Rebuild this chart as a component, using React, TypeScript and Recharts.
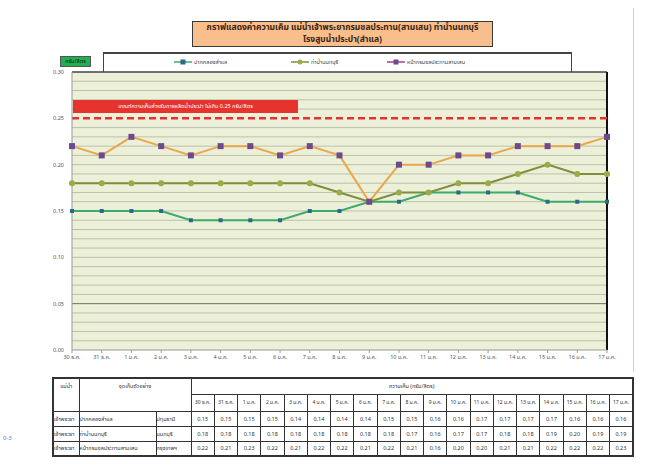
import React from 'react';
import { LineChart, Line, XAxis, YAxis, ReferenceLine, ReferenceArea } from 'recharts';

const dates = [
  '30 ธ.ค.', '31 ธ.ค.', '1 ม.ค.', '2 ม.ค.', '3 ม.ค.', '4 ม.ค.', '5 ม.ค.', '6 ม.ค.', '7 ม.ค.', '8 ม.ค.',
  '9 ม.ค.', '10 ม.ค.', '11 ม.ค.', '12 ม.ค.', '13 ม.ค.', '14 ม.ค.', '15 ม.ค.', '16 ม.ค.', '17 ม.ค.',
];
const samlae = [0.15, 0.15, 0.15, 0.15, 0.14, 0.14, 0.14, 0.14, 0.15, 0.15, 0.16, 0.16, 0.17, 0.17, 0.17, 0.17, 0.16, 0.16, 0.16];
const nonthaburi = [0.18, 0.18, 0.18, 0.18, 0.18, 0.18, 0.18, 0.18, 0.18, 0.17, 0.16, 0.17, 0.17, 0.18, 0.18, 0.19, 0.20, 0.19, 0.19];
const samsen = [0.22, 0.21, 0.23, 0.22, 0.21, 0.22, 0.22, 0.21, 0.22, 0.21, 0.16, 0.20, 0.20, 0.21, 0.21, 0.22, 0.22, 0.22, 0.23];

const yTicks = [0, 0.05, 0.1, 0.15, 0.2, 0.25, 0.3];
const gridValues = [
  0.01, 0.02, 0.03, 0.04, 0.05, 0.06, 0.07, 0.08, 0.09, 0.1, 0.11, 0.12, 0.13, 0.14, 0.15,
  0.16, 0.17, 0.18, 0.19, 0.2, 0.21, 0.22, 0.23, 0.24, 0.26, 0.27, 0.28, 0.29,
];
const limit = 0.25;

const stations = [
  { key: 'samlae', name: 'ปากคลองสำแล', province: 'ปทุมธานี', values: samlae, line: '#3dab6c', dot: '#2b6a86', shape: 'small' },
  { key: 'nonthaburi', name: 'ท่าน้ำนนทบุรี', province: 'นนทบุรี', values: nonthaburi, line: '#7f8d3c', dot: '#9aab48', shape: 'circle' },
  { key: 'samsen', name: 'หน้ากรมชลประทานสามเสน', province: 'กรุงเทพฯ', values: samsen, line: '#eba64c', dot: '#6b4a8e', shape: 'square' },
];

const data = dates.map((d, i) => ({
  date: d,
  samlae: samlae[i],
  nonthaburi: nonthaburi[i],
  samsen: samsen[i],
}));

const FONT = '"Noto Sans Thai", "Noto Sans", "DejaVu Sans", sans-serif';

const makeDot = (shape: string, color: string) => (props: any) => {
  const { cx, cy, index } = props;
  if (cx == null || cy == null) return <g key={index} />;
  if (shape === 'circle') return <circle key={index} cx={cx} cy={cy} r={3} fill={color} />;
  const s = shape === 'square' ? 6 : 4;
  return <rect key={index} x={cx - s / 2} y={cy - s / 2} width={s} height={s} fill={color} />;
};

const LegendMark: React.FC<{ line: string; dot: string; shape: string }> = ({ line, dot, shape }) => (
  <svg width={18} height={6} style={{ marginRight: 2 }}>
    <line x1={0} y1={3} x2={18} y2={3} stroke={line} strokeWidth={1.5} />
    {shape === 'circle' ? <circle cx={9} cy={3} r={2.5} fill={dot} /> : <rect x={6.5} y={0.5} width={5} height={5} fill={dot} />}
  </svg>
);

const cell: React.CSSProperties = { border: '1px solid #333', padding: 0, textAlign: 'center', fontSize: 5.5, color: '#333' };

export default function App() {
  return (
    <div style={{ position: 'absolute', left: 0, top: 0, width: 653, height: 466, background: '#fff', fontFamily: FONT, overflow: 'hidden' }}>
      <div style={{ position: 'absolute', left: 633, top: 8, width: 1, height: 364, background: '#d0d0d0' }} />

      {/* title */}
      <div style={{ position: 'absolute', left: 192, top: 21, width: 301, height: 26, background: '#f8be8c', border: '1px solid #3a3a3a', boxSizing: 'border-box', fontSize: 8.5, fontWeight: 700, color: '#3a2410', textAlign: 'center', lineHeight: '11.5px', paddingTop: 0 }}>
        กราฟแสดงค่าความเค็ม แม่น้ำเจ้าพระยากรมชลประทาน(สามเสน) ท่าน้ำนนทบุรี
        <br />
        โรงสูบน้ำประปา(สำแล)
      </div>

      {/* legend */}
      <div style={{ position: 'absolute', left: 103, top: 52, width: 469, height: 20, background: '#fff', borderTop: '2px solid #444', borderLeft: '1px solid #444', borderRight: '1px solid #444', boxSizing: 'border-box', fontSize: 5.5, color: '#444' }}>
        {stations.map((s, i) => (
          <div key={s.key} style={{ position: 'absolute', left: [70, 187, 283][i], top: 4, display: 'flex', alignItems: 'center' }}>
            <LegendMark line={s.key === 'samsen' ? '#b0407a' : s.line} dot={s.dot} shape={s.shape} />
            {s.name}
          </div>
        ))}
      </div>

      {/* unit label */}
      <div style={{ position: 'absolute', left: 60, top: 56, width: 31, height: 11, background: '#21b14a', border: '1px solid #555', boxSizing: 'border-box', fontSize: 5.5, color: '#113', textAlign: 'center', lineHeight: '9px' }}>
        กรัม/ลิตร
      </div>

      <LineChart width={653} height={372} data={data} margin={{ top: 72, right: 46, bottom: 6, left: 42 }} style={{ position: 'absolute', left: 0, top: 0 }}>
        <ReferenceArea y1={0} y2={0.3} fill="#ecf0d9" fillOpacity={1} stroke="none" ifOverflow="visible" />
        {gridValues.map((v) => (
          <ReferenceLine key={v} y={v} stroke={v === 0.05 ? '#6e6e66' : '#bcc1aa'} strokeWidth={1} />
        ))}
        <ReferenceLine y={0.3} stroke="#444" strokeWidth={1.5} />
        <ReferenceLine x={dates[dates.length - 1]} stroke="#111" strokeWidth={2} />
        <ReferenceLine y={limit} stroke="#e5312c" strokeWidth={2.5} strokeDasharray="7 4" />
        <XAxis
          dataKey="date"
          height={16}
          tick={{ fontSize: 5.5, fill: '#555', fontFamily: FONT }}
          tickLine={{ stroke: '#999' }}
          tickSize={3}
          axisLine={{ stroke: '#999' }}
          interval={0}
        />
        <YAxis
          domain={[0, 0.3]}
          ticks={yTicks}
          width={30}
          tick={{ fontSize: 5.5, fill: '#555', fontFamily: FONT }}
          tickFormatter={(v: number) => v.toFixed(2)}
          tickLine={false}
          axisLine={{ stroke: '#999' }}
        />
        {stations.map((s) => (
          <Line
            key={s.key}
            dataKey={s.key}
            stroke={s.line}
            strokeWidth={2}
            dot={makeDot(s.shape, s.dot)}
            activeDot={false}
            isAnimationActive={false}
          />
        ))}
      </LineChart>

      {/* limit label */}
      <div style={{ position: 'absolute', left: 73, top: 100, width: 225, height: 13, background: '#e5332e', fontSize: 5.5, color: '#fff', textAlign: 'center', lineHeight: '13px' }}>
        เกณฑ์ความเค็มสำหรับการผลิตน้ำประปา ไม่เกิน 0.25 กรัม/ลิตร
      </div>

      {/* table */}
      <table style={{ position: 'absolute', left: 52, top: 377, width: 580, height: 79, borderCollapse: 'collapse', border: '2px solid #333', tableLayout: 'fixed', fontFamily: FONT }}>
        <colgroup>
          <col style={{ width: 26 }} />
          <col style={{ width: 77 }} />
          <col style={{ width: 35 }} />
          {dates.map((d) => (
            <col key={d} style={{ width: 23.26 }} />
          ))}
        </colgroup>
        <tbody>
          <tr style={{ height: 16 }}>
            <td rowSpan={2} style={{ ...cell, verticalAlign: 'top', paddingTop: 3 }}>แม่น้ำ</td>
            <td colSpan={2} rowSpan={2} style={{ ...cell, verticalAlign: 'top', paddingTop: 3 }}>จุดเก็บตัวอย่าง</td>
            <td colSpan={dates.length} style={cell}>ความเค็ม (กรัม/ลิตร)</td>
          </tr>
          <tr style={{ height: 17 }}>
            {dates.map((d) => (
              <td key={d} style={{ ...cell, fontSize: 5 }}>{d}</td>
            ))}
          </tr>
          {stations.map((s) => (
            <tr key={s.key} style={{ height: 15 }}>
              <td style={{ ...cell, textAlign: 'left' }}>เจ้าพระยา</td>
              <td style={{ ...cell, textAlign: 'left' }}>{s.name}</td>
              <td style={{ ...cell, textAlign: 'left' }}>{s.province}</td>
              {s.values.map((v, i) => (
                <td key={i} style={cell}>{v.toFixed(2)}</td>
              ))}
            </tr>
          ))}
        </tbody>
      </table>

      <div style={{ position: 'absolute', left: 3, top: 434, fontSize: 6, color: '#5a78b0' }}>0-3</div>
    </div>
  );
}
